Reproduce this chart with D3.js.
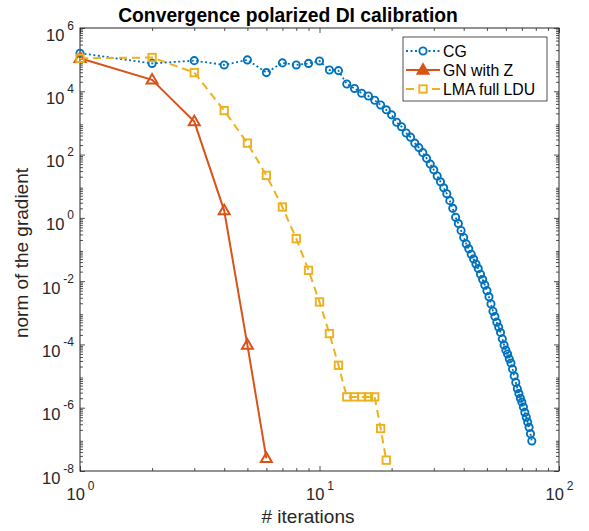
<!DOCTYPE html>
<html><head><meta charset="utf-8">
<script src="https://cdn.jsdelivr.net/npm/d3@7"></script>
<style>body{margin:0;background:#fff} text{font-family:"Liberation Sans",Arial,Helvetica,sans-serif}</style>
</head><body><svg id="c" width="589" height="531"></svg>
<script>
// ---- data ----
const cgIter = [1,2,3,4,5,6,7,8,9,10,11,12,13,14,15,16,17,18,19,20,21,22,23,24,25,26,27,28,29,30,31,32,33,34,35,36,37,38,39,40,41,42,43,44,45,46,47,48,49,50,51,52,53,54,55,56,57,58,59,60,61,62,63,64,65,66,67,68,69,70,71,72,73,74,75,76,77];
const cgVals = [1.6e5,7.6e4,9.3e4,6.8e4,9.8e4,3.9e4,7.9e4,6.8e4,7.6e4,9.1e4,4.7e4,4.5e4,1.7e4,1.23e4,8.7e3,7.1e3,5.2e3,3.7e3,2.6e3,1.8e3,1.05e3,760,480,355,230,166,115,76,50,33,21,13.8,8.9,5.8,3.5,2.0,1.05,0.66,0.40,0.24,0.15,0.105,0.071,0.050,0.035,0.025,0.0166,0.0112,7.6e-3,5.0e-3,3.2e-3,1.9e-3,1.12e-3,7.6e-4,5.0e-4,3.5e-4,2.4e-4,1.5e-4,9.5e-5,6.6e-5,5.0e-5,3.5e-5,2.6e-5,1.66e-5,1.0e-5,6.3e-6,4.0e-6,2.8e-6,2.0e-6,1.5e-6,1.05e-6,7.1e-7,5.0e-7,3.5e-7,2.4e-7,1.5e-7,8.9e-8];
const gnIter = [1,2,3,4,5,6];
const gnVals = [1.1e5,2.3e4,1.1e3,1.7,9.5e-5,2.5e-8];
const lmaIter = [1,2,3,4,5,6,7,8,9,10,11,12,13,14,15,16,17,18,19];
const lmaVals = [1.1e5,1.17e5,3.9e4,2.45e3,230,22,2.2,0.22,0.022,2.2e-3,2.2e-4,2.2e-5,2.2e-6,2.2e-6,2.2e-6,2.2e-6,2.2e-6,2.2e-7,2.2e-8];
const seriesNames = ["CG","GN with Z","LMA full LDU"];
const xTickExp = [0,1,2];
const yTickExp = [-8,-6,-4,-2,0,2,4,6];
const titleText = "Convergence polarized DI calibration";
const xLabelText = "# iterations";
const yLabelText = "norm of the gradient";

// ---- layout ----
const M = {l:80, r:559, t:28, b:471};
const AX = "#262626";
const colors = ["#0072BD","#D95319","#EDB120"];
const svg = d3.select("#c");
const x = d3.scaleLog().domain([1,100]).range([M.l, M.r]);
const y = d3.scaleLog().domain([1e-8,1e6]).range([M.b, M.t]);

const xMajor = xTickExp.map(e => Math.pow(10,e));
const yMajor = yTickExp.map(e => Math.pow(10,e));
const xMinor = [], yMinor = [];
for (let e=0;e<2;e++) for (let m=2;m<=9;m++) xMinor.push(m*Math.pow(10,e));
for (let e=-8;e<6;e++) for (let m=2;m<=9;m++) yMinor.push(m*Math.pow(10,e));

function styleAxis(g){ g.selectAll("path.domain").remove(); g.selectAll("line").attr("stroke",AX).attr("stroke-width",0.8); }

// minor ticks
svg.append("g").attr("transform",`translate(0,${M.b})`).call(d3.axisBottom(x).tickValues(xMinor).tickSize(-3).tickFormat("")).call(styleAxis);
svg.append("g").attr("transform",`translate(0,${M.t})`).call(d3.axisTop(x).tickValues(xMinor).tickSize(-3).tickFormat("")).call(styleAxis);
svg.append("g").attr("transform",`translate(${M.l},0)`).call(d3.axisLeft(y).tickValues(yMinor).tickSize(-3).tickFormat("")).call(styleAxis);
svg.append("g").attr("transform",`translate(${M.r},0)`).call(d3.axisRight(y).tickValues(yMinor).tickSize(-3).tickFormat("")).call(styleAxis);
// major ticks
const gxb = svg.append("g").attr("transform",`translate(0,${M.b})`).call(d3.axisBottom(x).tickValues(xMajor).tickSize(-5).tickFormat("")).call(styleAxis);
svg.append("g").attr("transform",`translate(0,${M.t})`).call(d3.axisTop(x).tickValues(xMajor).tickSize(-5).tickFormat("")).call(styleAxis);
const gyl = svg.append("g").attr("transform",`translate(${M.l},0)`).call(d3.axisLeft(y).tickValues(yMajor).tickSize(-5).tickFormat("")).call(styleAxis);
svg.append("g").attr("transform",`translate(${M.r},0)`).call(d3.axisRight(y).tickValues(yMajor).tickSize(-5).tickFormat("")).call(styleAxis);

// tick labels (10^k)
gxb.selectAll(".tick text").each(function(d){
  const t = d3.select(this).text(null).attr("y",29).attr("dy",0).attr("text-anchor","middle")
    .attr("fill",AX).attr("font-size",16.5);
  t.append("tspan").text("10");
  t.append("tspan").attr("dx",3).attr("dy",-10).attr("font-size",12).text(Math.round(Math.log10(d)));
});
gyl.selectAll(".tick text").each(function(d){
  const t = d3.select(this).text(null).attr("x",-6).attr("y",12).attr("dy",0).attr("text-anchor","end")
    .attr("fill",AX).attr("font-size",16.5);
  t.append("tspan").text("10");
  t.append("tspan").attr("dx",3).attr("dy",-11).attr("font-size",12).text(Math.round(Math.log10(d)));
});

// frame
svg.append("rect").attr("x",M.l).attr("y",M.t).attr("width",M.r-M.l).attr("height",M.b-M.t)
  .attr("fill","none").attr("stroke",AX).attr("stroke-width",1);

// series
const line = d3.line().x(d=>x(d[0])).y(d=>y(d[1]));
const cg = cgIter.map((v,i)=>[v,cgVals[i]]);
const gn = gnIter.map((v,i)=>[v,gnVals[i]]);
const lma = lmaIter.map((v,i)=>[v,lmaVals[i]]);
const plot = svg.append("g");
plot.append("path").datum(cg).attr("d",line).attr("fill","none").attr("stroke",colors[0]).attr("stroke-width",1.8).attr("stroke-dasharray","2,2.5");
plot.append("path").datum(gn).attr("d",line).attr("fill","none").attr("stroke",colors[1]).attr("stroke-width",2);
plot.append("path").datum(lma).attr("d",line).attr("fill","none").attr("stroke",colors[2]).attr("stroke-width",2).attr("stroke-dasharray","8,5");

const tri = d3.symbol().type(d3.symbolTriangle).size(52);
function circles(g, data, c){ g.selectAll(null).data(data).enter().append("circle").attr("cx",d=>x(d[0])).attr("cy",d=>y(d[1])).attr("r",3.6).attr("fill","none").attr("stroke",c).attr("stroke-width",1.9); }
function tris(g, data, c){ g.selectAll(null).data(data).enter().append("path").attr("d",tri).attr("transform",d=>`translate(${x(d[0])},${y(d[1])+0.5})`).attr("fill","none").attr("stroke",c).attr("stroke-width",2); }
function squares(g, data, c){ g.selectAll(null).data(data).enter().append("rect").attr("x",d=>x(d[0])-3.7).attr("y",d=>y(d[1])-3.7).attr("width",7.4).attr("height",7.4).attr("fill","none").attr("stroke",c).attr("stroke-width",1.9); }
circles(plot, cg, colors[0]);
tris(plot, gn, colors[1]);
squares(plot, lma, colors[2]);

// legend
const lg = svg.append("g");
lg.append("rect").attr("x",403).attr("y",37).attr("width",144).attr("height",64).attr("fill","#fff").attr("stroke",AX).attr("stroke-width",0.8);
const rows = [51,70,89];
const dashes = ["2,2.5",null,"8,5"];
seriesNames.forEach((n,i)=>{
  const ry = rows[i];
  lg.append("line").attr("x1",406).attr("x2",440).attr("y1",ry).attr("y2",ry).attr("stroke",colors[i]).attr("stroke-width",i===0?1.8:2).attr("stroke-dasharray",dashes[i]);
  if(i===0) lg.append("circle").attr("cx",423).attr("cy",ry).attr("r",3.6).attr("fill","#fff").attr("stroke",colors[0]).attr("stroke-width",1.9);
  if(i===1) lg.append("path").attr("d",tri).attr("transform",`translate(423,${ry+0.5})`).attr("fill",colors[1]).attr("stroke",colors[1]).attr("stroke-width",2);
  if(i===2) lg.append("rect").attr("x",423-3.7).attr("y",ry-3.7).attr("width",7.4).attr("height",7.4).attr("fill","#fff").attr("stroke",colors[2]).attr("stroke-width",1.9);
  lg.append("text").attr("x",443).attr("y",ry+5.5).attr("font-size",15.8).attr("fill","#000").text(n);
});

// titles
svg.append("text").attr("x",288).attr("y",22).attr("text-anchor","middle").attr("font-size",19.3).attr("font-weight","bold").attr("fill","#000").text(titleText);
svg.append("text").attr("x",308).attr("y",523).attr("text-anchor","middle").attr("font-size",19).attr("fill",AX).text(xLabelText);
svg.append("text").attr("transform","translate(28,253) rotate(-90)").attr("text-anchor","middle").attr("font-size",19).attr("fill",AX).text(yLabelText);
</script></body></html>
